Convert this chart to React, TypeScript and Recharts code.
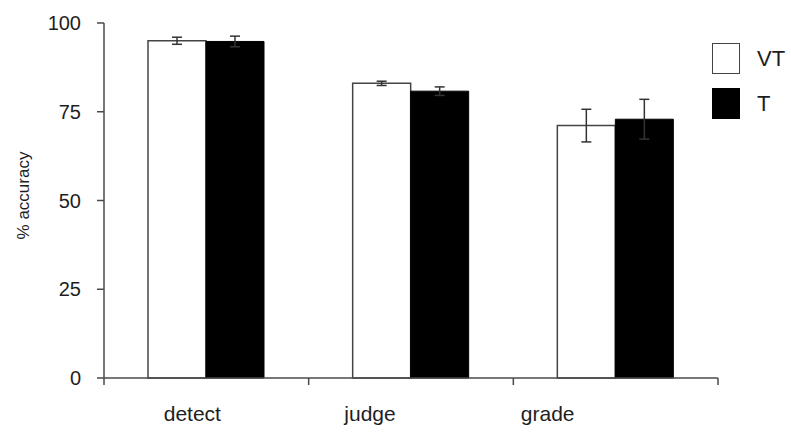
import React from 'react';
import { BarChart, Bar, XAxis, YAxis, ErrorBar } from 'recharts';

// categories and series
const CATEGORIES = ['detect', 'judge', 'grade'];
const VT_VALUES = [95.0, 83.0, 71.1];
const VT_ERRORS = [1.0, 0.6, 4.6];
const T_VALUES = [94.8, 80.8, 72.9];
const T_ERRORS = [1.5, 1.2, 5.6];
const Y_TICKS = [0, 25, 50, 75, 100];

const SERIES = [
  { key: 'VT', fill: '#ffffff', stroke: '#444444' },
  { key: 'T', fill: '#000000', stroke: '#000000' },
];

const data = CATEGORIES.map((name, i) => ({
  name,
  VT: VT_VALUES[i],
  vtErr: VT_ERRORS[i],
  T: T_VALUES[i],
  tErr: T_ERRORS[i],
}));

const AXIS = '#4a4a4a';
const TEXT = '#1e1e1e';
const LABEL_GAP = 28;
const EDGE_TICK = 7;
// the original's category labels sit a bit left of the band centres
const LABEL_SHIFT = [-14, -41, -68];

// category label plus the tick marks at the band edges (Excel style)
const CategoryTick = (props: any) => {
  const { x, y, payload, index, visibleTicksCount } = props;
  const half = payload.offset || 0;
  const axisY = y - LABEL_GAP;
  const last = index === visibleTicksCount - 1;
  return (
    <g>
      <line x1={x - half} y1={axisY} x2={x - half} y2={axisY + EDGE_TICK} stroke={AXIS} strokeWidth={1.5} />
      {last && (
        <line x1={x + half} y1={axisY} x2={x + half} y2={axisY + EDGE_TICK} stroke={AXIS} strokeWidth={1.5} />
      )}
      <text x={x + (LABEL_SHIFT[index] || 0)} y={y} dy="0.71em" textAnchor="middle" fill={TEXT} style={{ fontSize: 21 }}>
        {payload.value}
      </text>
    </g>
  );
};

const ValueTick = (props: any) => {
  const { x, y, payload } = props;
  return (
    <text x={x} y={y} dy="0.355em" textAnchor="end" fill={TEXT} style={{ fontSize: 20 }}>
      {payload.value}
    </text>
  );
};

const App = () => {
  return (
    <div
      style={{
        position: 'absolute',
        left: 0,
        top: 0,
        width: 791,
        height: 435,
        background: '#fff',
        fontFamily: '"Liberation Sans", Arial, sans-serif',
      }}
    >
      <BarChart
        width={791}
        height={435}
        data={data}
        margin={{ top: 23, right: 73, bottom: 27, left: 0 }}
        barSize={58}
        barGap={0}
      >
        <XAxis
          dataKey="name"
          height={30}
          axisLine={{ stroke: AXIS, strokeWidth: 1.5 }}
          tickLine={false}
          tickSize={0}
          tickMargin={LABEL_GAP}
          interval={0}
          tick={<CategoryTick />}
        />
        <YAxis
          width={104}
          domain={[0, 100]}
          ticks={Y_TICKS}
          tickSize={7}
          tickMargin={16}
          tick={<ValueTick />}
          axisLine={{ stroke: AXIS, strokeWidth: 1.5 }}
          tickLine={{ stroke: AXIS, strokeWidth: 1.5 }}
          label={{
            content: (p: any) => {
              const vb = p.viewBox || {};
              const cx = (vb.x || 0) + 23;
              const cy = (vb.y || 0) + (vb.height || 0) / 2 - 5;
              return (
                <text
                  x={cx}
                  y={cy}
                  transform={`rotate(-90, ${cx}, ${cy})`}
                  textAnchor="middle"
                  dominantBaseline="central"
                  fill={TEXT}
                  style={{ fontSize: 17 }}
                >
                  % accuracy
                </text>
              );
            },
          }}
        />
        <Bar dataKey="VT" fill="#ffffff" stroke="#444444" strokeWidth={1.5} isAnimationActive={false}>
          <ErrorBar dataKey="vtErr" width={5} stroke="#333" strokeWidth={1.5} direction="y" isAnimationActive={false} />
        </Bar>
        <Bar dataKey="T" fill="#000000" stroke="#000000" strokeWidth={1} isAnimationActive={false}>
          <ErrorBar dataKey="tErr" width={5} stroke="#333" strokeWidth={1.5} direction="y" isAnimationActive={false} />
        </Bar>
      </BarChart>

      {/* legend */}
      <div style={{ position: 'absolute', left: 712, top: 43 }}>
        {SERIES.map((s, i) => (
          <div key={s.key} style={{ display: 'flex', alignItems: 'center', height: 31, marginBottom: i === 0 ? 14 : 0 }}>
            <div
              style={{
                width: 28,
                height: 31,
                boxSizing: 'border-box',
                background: s.fill,
                border: `1.5px solid ${s.stroke}`,
              }}
            />
            <span style={{ marginLeft: 17, fontSize: 22, color: TEXT }}>{s.key}</span>
          </div>
        ))}
      </div>
    </div>
  );
};

export default App;
